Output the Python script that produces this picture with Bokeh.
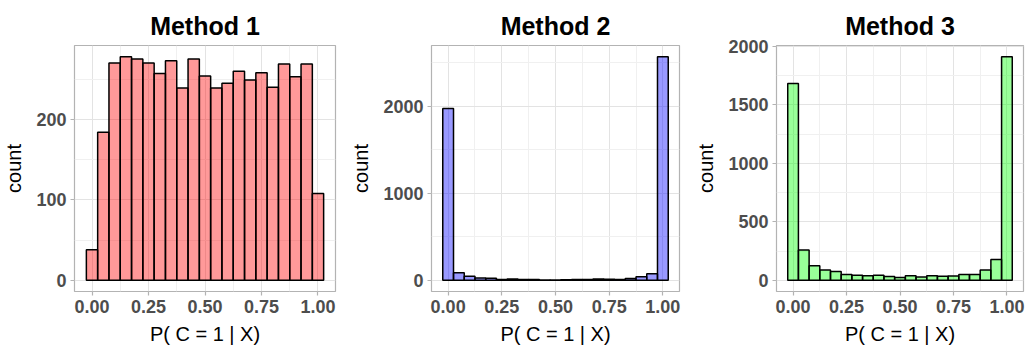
from bokeh.plotting import figure
from bokeh.layouts import row
from bokeh.models import FixedTicker, NumeralTickFormatter
from bokeh.embed import file_html
from bokeh.resources import INLINE

# ---- data ----
bin_centers = [0.00, 0.05, 0.10, 0.15, 0.20, 0.25, 0.30, 0.35, 0.40, 0.45, 0.50,
               0.55, 0.60, 0.65, 0.70, 0.75, 0.80, 0.85, 0.90, 0.95, 1.00]
bin_width = 0.05
method1_counts = [38, 184, 270, 278, 275, 270, 257, 273, 239, 275, 254,
                  239, 245, 260, 249, 258, 240, 269, 253, 269, 108]
method2_counts = [1973, 87, 46, 27, 23, 8, 15, 8, 8, 5, 4,
                  6, 10, 10, 14, 12, 10, 22, 42, 76, 2567]
method3_counts = [1682, 260, 124, 89, 75, 50, 44, 38, 43, 32, 24,
                  40, 28, 38, 35, 36, 50, 50, 89, 178, 1912]
titles = ["Method 1", "Method 2", "Method 3"]
fill_colors = ["#FF0000", "#0000FF", "#00FF00"]
x_ticks = [0.0, 0.25, 0.5, 0.75, 1.0]
x_minor = [-0.125, 0.125, 0.375, 0.625, 0.875, 1.125]
y_ticks_list = [[0, 100, 200], [0, 1000, 2000], [0, 500, 1000, 1500, 2000]]
y_minor_list = [[50, 150, 250], [500, 1500, 2500], [250, 750, 1250, 1750]]
x_label = "P( C = 1 | X)"
y_label = "count"

FONT = "Liberation Sans"


def panel(counts, title, color, yt, ym, frame_w, left, right):
    lo = min(c - bin_width / 2 for c in bin_centers)
    hi = max(c + bin_width / 2 for c in bin_centers)
    xpad = (hi - lo) * 0.05
    ymax = max(counts)
    ypad = ymax * 0.05
    p = figure(frame_width=frame_w, frame_height=246,
               x_range=(lo - xpad, hi + xpad), y_range=(-ypad, ymax + ypad),
               output_backend="svg", toolbar_location=None,
               min_border_left=left, min_border_right=right,
               min_border_top=45, min_border_bottom=54,
               background_fill_color="white", border_fill_color="white")
    p.title.text = title
    p.title.text_font = FONT
    p.title.text_font_size = "25px"
    p.title.text_font_style = "bold"
    p.title.align = "center"
    p.title.text_color = "black"
    p.title.standoff = 12

    p.quad(left=[c - bin_width / 2 for c in bin_centers],
           right=[c + bin_width / 2 for c in bin_centers],
           bottom=0, top=counts,
           fill_color=color, fill_alpha=0.4,
           line_color="black", line_width=1.5)

    p.outline_line_color = "#B3B3B3"
    p.outline_line_width = 1.2

    p.xaxis.ticker = FixedTicker(ticks=x_ticks, minor_ticks=x_minor)
    p.yaxis.ticker = FixedTicker(ticks=yt, minor_ticks=ym)
    p.xaxis.formatter = NumeralTickFormatter(format="0.00")
    p.yaxis.formatter = NumeralTickFormatter(format="0")

    for ax in (p.xaxis, p.yaxis):
        ax.axis_line_color = None
        ax.major_tick_line_color = "#B3B3B3"
        ax.major_tick_line_width = 1.2
        ax.major_tick_out = 4
        ax.major_tick_in = 0
        ax.minor_tick_line_color = None
        ax.major_label_text_font = FONT
        ax.major_label_text_font_size = "18px"
        ax.major_label_text_font_style = "bold"
        ax.major_label_text_color = "#4D4D4D"
        ax.axis_label_text_font = FONT
        ax.axis_label_text_font_size = "20px"
        ax.axis_label_text_font_style = "normal"
        ax.axis_label_text_color = "black"
        ax.major_label_standoff = 4
    p.xaxis.axis_label = x_label
    p.yaxis.axis_label = y_label
    p.xaxis.axis_label_standoff = 7
    p.yaxis.axis_label_standoff = 8

    for g in (p.xgrid, p.ygrid):
        g.grid_line_color = "#E3E3E3"
        g.grid_line_width = 1
        g.minor_grid_line_color = "#F0F0F0"
        g.minor_grid_line_width = 1
    return p


p1 = panel(method1_counts, titles[0], fill_colors[0], y_ticks_list[0], y_minor_list[0], 261, 68, 8)
p2 = panel(method2_counts, titles[1], fill_colors[1], y_ticks_list[1], y_minor_list[1], 248, 88, 9)
p3 = panel(method3_counts, titles[2], fill_colors[2], y_ticks_list[2], y_minor_list[2], 247, 88, 2)

layout = row(p1, p2, p3, spacing=0)
open("out.html", "w").write(file_html(layout, INLINE))
